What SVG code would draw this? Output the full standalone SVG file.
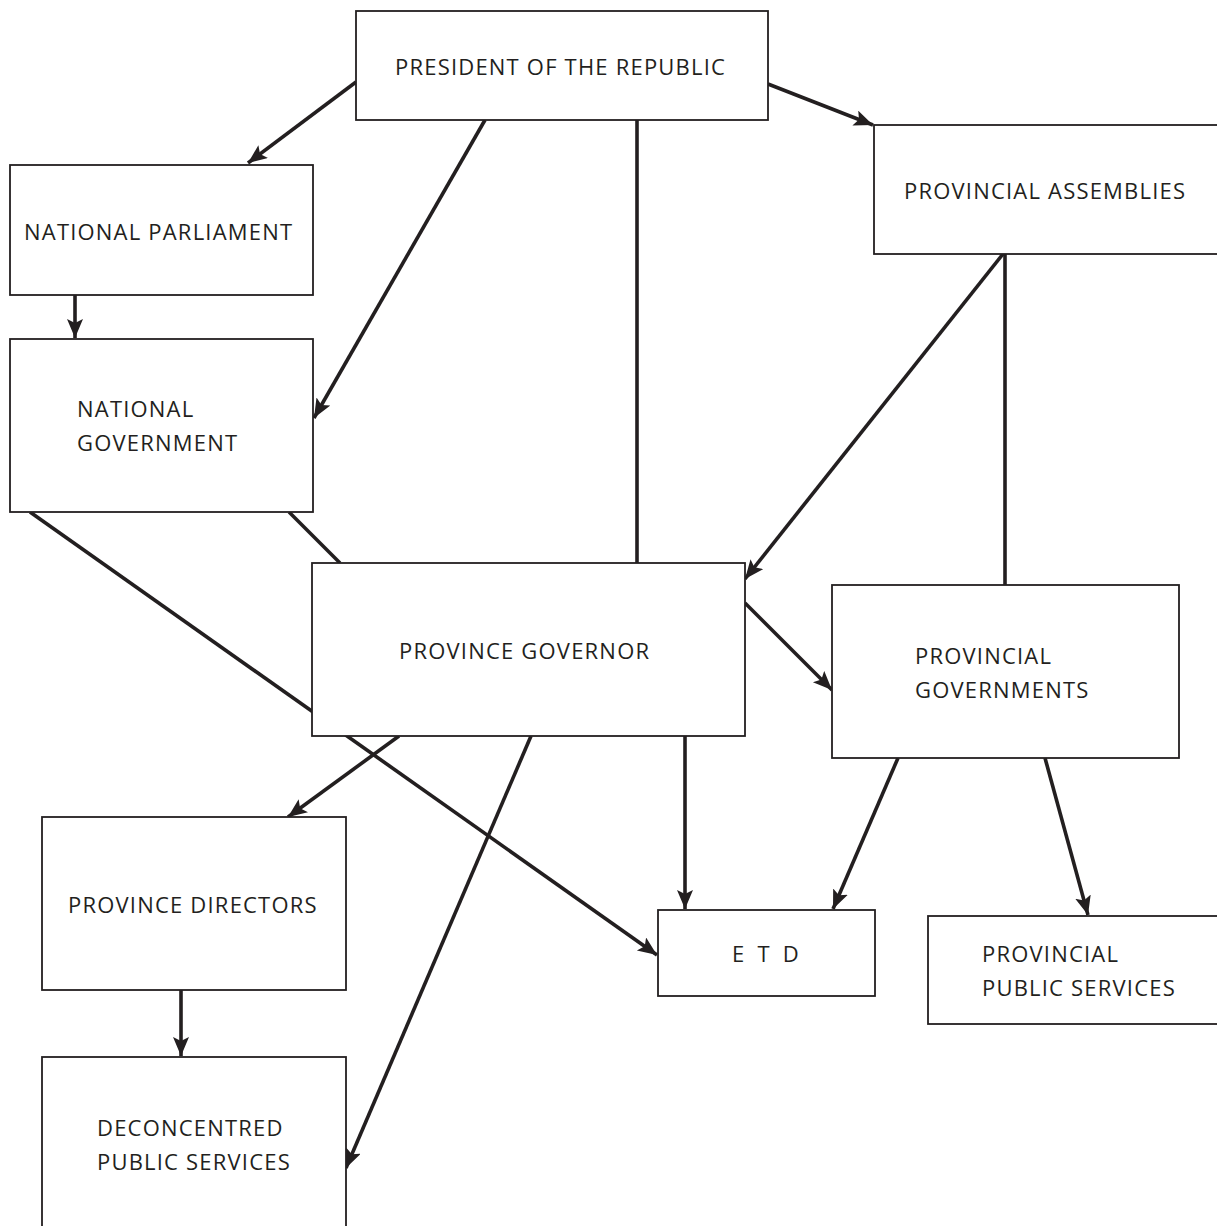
<svg xmlns="http://www.w3.org/2000/svg" width="1217" height="1226" viewBox="0 0 1217 1226">
<style>
.box{fill:#fff;stroke:#231f20;stroke-width:1.8}
.c{fill:none;stroke:#231f20;stroke-width:3.6}
.t{font-family:"Open Sans","Liberation Sans",sans-serif;font-size:22px;letter-spacing:1.2px;fill:#231f20}
</style>
<defs>
<marker id="ah" markerUnits="userSpaceOnUse" markerWidth="22" markerHeight="18" refX="19" refY="8" orient="auto">
<path d="M0,0 L19,8 L0,16 L4,8 z" fill="#231f20"/>
</marker>
</defs>
<rect width="1217" height="1226" fill="#fff"/>
<g id="connectors">
<line class="c" x1="356" y1="82" x2="248" y2="163" marker-end="url(#ah)"/>
<line class="c" x1="485" y1="120" x2="314" y2="418" marker-end="url(#ah)"/>
<line class="c" x1="637" y1="120" x2="637" y2="563"/>
<line class="c" x1="768" y1="84" x2="873" y2="125" marker-end="url(#ah)"/>
<line class="c" x1="75" y1="295" x2="75" y2="338" marker-end="url(#ah)"/>
<line class="c" x1="30" y1="512" x2="657" y2="955" marker-end="url(#ah)"/>
<line class="c" x1="289" y1="512" x2="340" y2="563"/>
<line class="c" x1="1003" y1="254" x2="745" y2="579" marker-end="url(#ah)"/>
<line class="c" x1="1005" y1="254" x2="1005" y2="585"/>
<line class="c" x1="745" y1="603" x2="832" y2="690" marker-end="url(#ah)"/>
<line class="c" x1="399" y1="736" x2="288" y2="817" marker-end="url(#ah)"/>
<line class="c" x1="531" y1="736" x2="346" y2="1168" marker-end="url(#ah)"/>
<line class="c" x1="685" y1="736" x2="685" y2="909" marker-end="url(#ah)"/>
<line class="c" x1="898" y1="758" x2="833" y2="909" marker-end="url(#ah)"/>
<line class="c" x1="1045" y1="758" x2="1088" y2="915" marker-end="url(#ah)"/>
<line class="c" x1="181" y1="990" x2="181" y2="1056" marker-end="url(#ah)"/>
</g>
<g id="president"><rect class="box" x="356" y="11" width="412" height="109"/><text class="t" x="395" y="75">PRESIDENT OF THE REPUBLIC</text></g>
<g id="national-parliament"><rect class="box" x="10" y="165" width="303" height="130"/><text class="t" x="24" y="240">NATIONAL PARLIAMENT</text></g>
<g id="national-government"><rect class="box" x="10" y="339" width="303" height="173"/><text class="t" x="77" y="417">NATIONAL</text><text class="t" x="77" y="451">GOVERNMENT</text></g>
<g id="provincial-assemblies"><rect class="box" x="874" y="125" width="400" height="129"/><text class="t" x="904" y="199">PROVINCIAL ASSEMBLIES</text></g>
<g id="province-governor"><rect class="box" x="312" y="563" width="433" height="173"/><text class="t" x="399" y="659">PROVINCE GOVERNOR</text></g>
<g id="provincial-governments"><rect class="box" x="832" y="585" width="347" height="173"/><text class="t" x="915" y="664">PROVINCIAL</text><text class="t" x="915" y="698">GOVERNMENTS</text></g>
<g id="province-directors"><rect class="box" x="42" y="817" width="304" height="173"/><text class="t" x="68" y="913">PROVINCE DIRECTORS</text></g>
<g id="etd"><rect class="box" x="658" y="910" width="217" height="86"/><text class="t" x="732" y="962" textLength="68">E T D</text></g>
<g id="provincial-public-services"><rect class="box" x="928" y="916" width="400" height="108"/><text class="t" x="982" y="962">PROVINCIAL</text><text class="t" x="982" y="996">PUBLIC SERVICES</text></g>
<g id="deconcentred-public-services"><rect class="box" x="42" y="1057" width="304" height="200"/><text class="t" x="97" y="1136">DECONCENTRED</text><text class="t" x="97" y="1170">PUBLIC SERVICES</text></g>
</svg>
